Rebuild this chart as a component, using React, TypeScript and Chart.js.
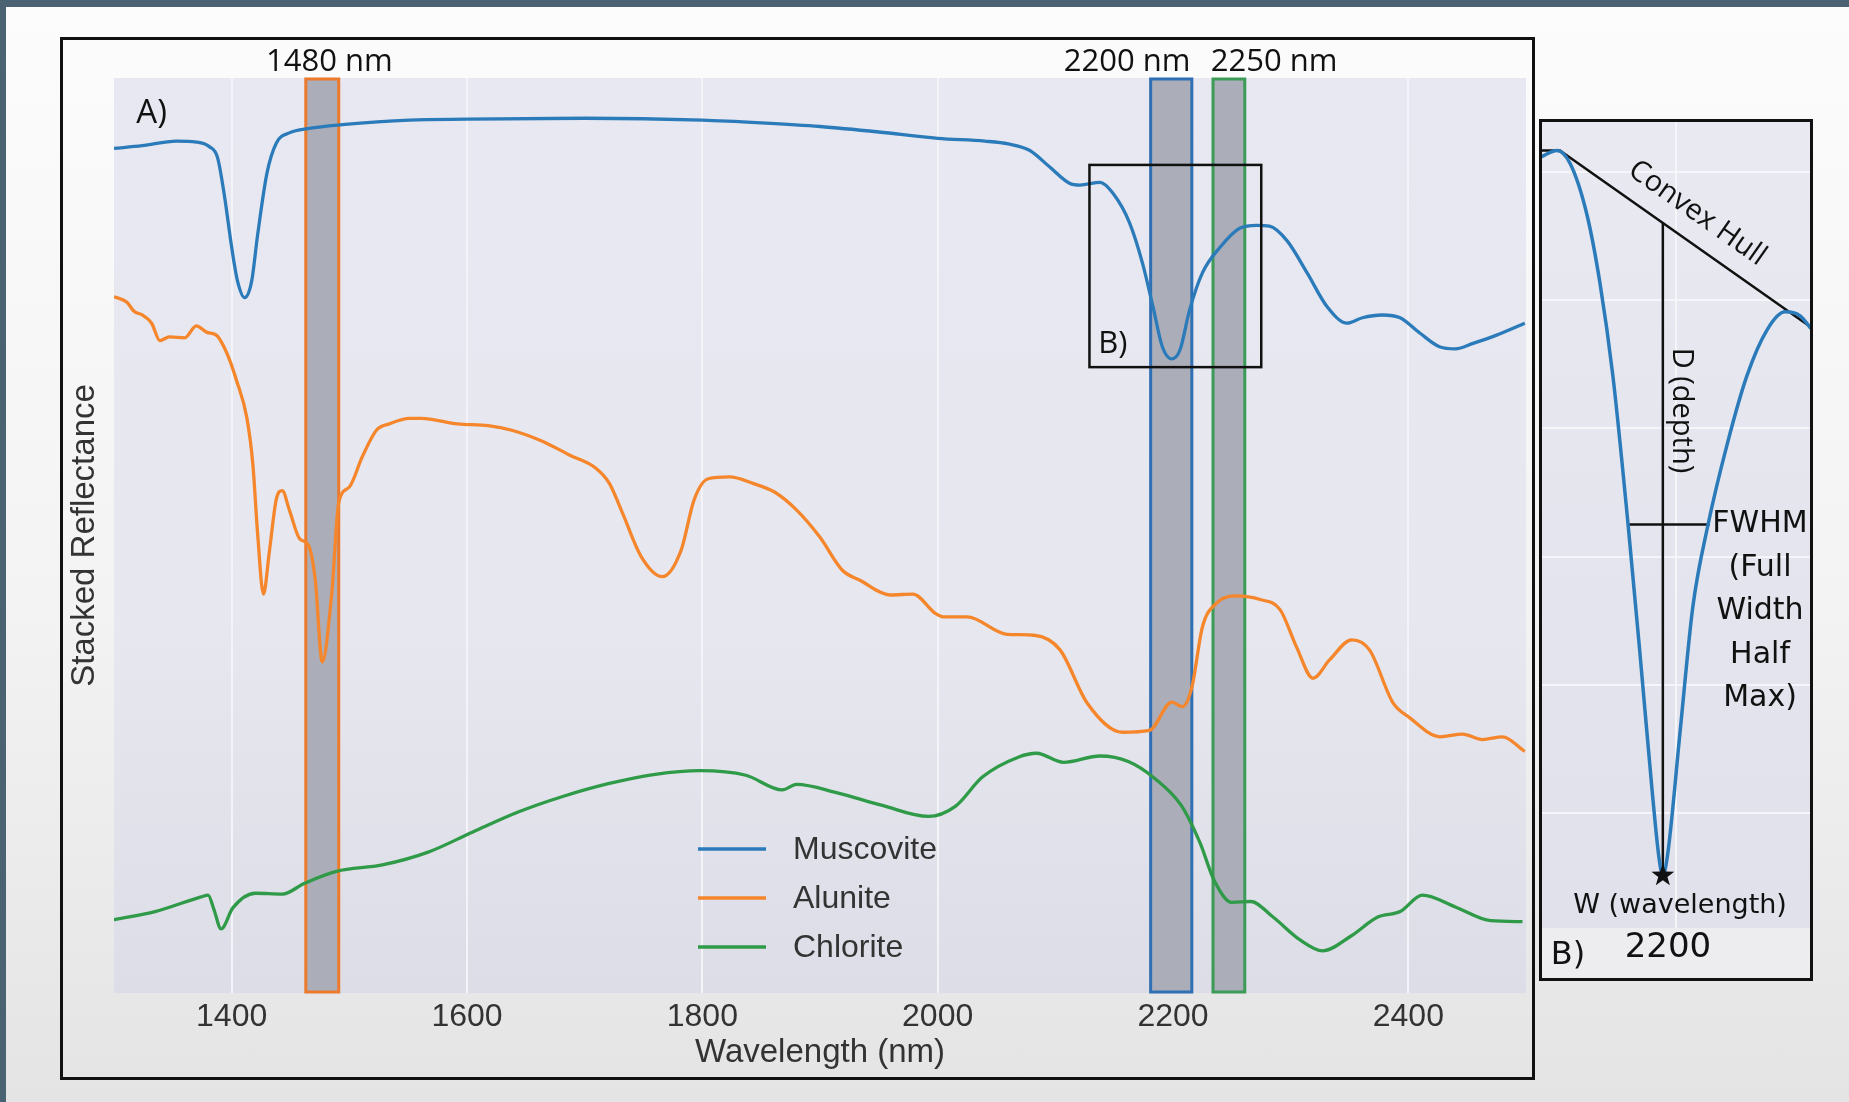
import React, { useEffect, useRef } from "react";
import { Chart, registerables } from "chart.js";

Chart.register(...registerables);

// ---------- main panel data ----------
const xTicks = [1400, 1600, 1800, 2000, 2200, 2400];

const muscoviteWl = [1300, 1324, 1353, 1370, 1381, 1388, 1394, 1400, 1405, 1411, 1417, 1422, 1430, 1438, 1449, 1466, 1494, 1551, 1600, 1700, 1800, 1850, 1900, 1950, 2000, 2040, 2060, 2078, 2095, 2112, 2121, 2138, 2149, 2163, 2174, 2183, 2191, 2199, 2206, 2214, 2225, 2240, 2257, 2271, 2282, 2297, 2314, 2331, 2348, 2361, 2378, 2393, 2410, 2427, 2440, 2455, 2475, 2499];
const muscoviteR = [0.923, 0.926, 0.931, 0.930, 0.925, 0.913, 0.870, 0.815, 0.778, 0.760, 0.778, 0.828, 0.896, 0.929, 0.940, 0.945, 0.949, 0.954, 0.955, 0.956, 0.954, 0.951, 0.947, 0.941, 0.934, 0.931, 0.928, 0.921, 0.903, 0.885, 0.883, 0.886, 0.874, 0.842, 0.798, 0.750, 0.706, 0.693, 0.703, 0.746, 0.787, 0.815, 0.836, 0.839, 0.838, 0.822, 0.787, 0.750, 0.732, 0.738, 0.741, 0.738, 0.721, 0.706, 0.704, 0.710, 0.719, 0.732];

const aluniteWl = [1300, 1311, 1317, 1324, 1332, 1339, 1347, 1360, 1370, 1379, 1387, 1396, 1404, 1413, 1418, 1422, 1427, 1432, 1438, 1443, 1449, 1458, 1465, 1471, 1477, 1485, 1491, 1500, 1511, 1523, 1534, 1551, 1561, 1592, 1618, 1638, 1664, 1687, 1709, 1721, 1732, 1748, 1766, 1782, 1793, 1805, 1823, 1843, 1862, 1880, 1900, 1919, 1934, 1960, 1979, 1998, 2006, 2025, 2059, 2082, 2104, 2127, 2157, 2180, 2199, 2208, 2216, 2225, 2237, 2254, 2274, 2291, 2305, 2319, 2333, 2352, 2367, 2387, 2401, 2427, 2446, 2463, 2480, 2499];
const aluniteR = [0.761, 0.755, 0.745, 0.741, 0.732, 0.713, 0.717, 0.716, 0.729, 0.722, 0.719, 0.699, 0.670, 0.628, 0.578, 0.503, 0.436, 0.482, 0.540, 0.549, 0.528, 0.496, 0.490, 0.452, 0.362, 0.436, 0.536, 0.553, 0.586, 0.615, 0.622, 0.628, 0.628, 0.622, 0.620, 0.615, 0.603, 0.588, 0.574, 0.557, 0.525, 0.477, 0.455, 0.484, 0.539, 0.562, 0.564, 0.557, 0.547, 0.528, 0.498, 0.462, 0.451, 0.435, 0.436, 0.415, 0.411, 0.411, 0.392, 0.391, 0.375, 0.317, 0.285, 0.287, 0.318, 0.313, 0.334, 0.400, 0.426, 0.434, 0.430, 0.419, 0.378, 0.344, 0.364, 0.386, 0.375, 0.317, 0.301, 0.280, 0.283, 0.277, 0.280, 0.264];

const chloriteWl = [1300, 1335, 1374, 1380, 1385, 1391, 1401, 1420, 1443, 1462, 1489, 1528, 1567, 1605, 1644, 1682, 1721, 1760, 1798, 1837, 1868, 1880, 1914, 1953, 1992, 2015, 2038, 2069, 2084, 2107, 2138, 2162, 2184, 2207, 2223, 2235, 2250, 2266, 2285, 2308, 2327, 2351, 2374, 2393, 2412, 2440, 2470, 2497];
const chloriteR = [0.080, 0.089, 0.105, 0.107, 0.091, 0.070, 0.093, 0.109, 0.108, 0.120, 0.133, 0.140, 0.154, 0.176, 0.198, 0.215, 0.229, 0.239, 0.243, 0.238, 0.222, 0.228, 0.219, 0.205, 0.193, 0.204, 0.236, 0.258, 0.262, 0.252, 0.259, 0.253, 0.235, 0.205, 0.164, 0.123, 0.099, 0.100, 0.083, 0.058, 0.046, 0.062, 0.083, 0.089, 0.107, 0.094, 0.079, 0.078];

const seriesNames = ["Muscovite", "Alunite", "Chlorite"];
const seriesColors = ["#2b7bba", "#f5862b", "#2f9a47"];

const bandStart = [1463, 2181, 2234];
const bandEnd = [1491, 2216, 2261];
const bandColors = ["#ec7a2c", "#2f6fb3", "#3c9b57"];
const bandLabels = ["1480 nm", "2200 nm", "2250 nm"];
const bandLabelAt = [1483, 2161, 2286];

const zoomBoxWl = [2129, 2275];
const zoomBoxR = [0.684, 0.905];

// ---------- inset (B) data ----------
const detailWl = [2160, 2164.7, 2168.6, 2173.6, 2177.5, 2181.3, 2185.8, 2189.3, 2192.9, 2195, 2196.1, 2197.6, 2201.2, 2205, 2209.5, 2215.1, 2221, 2227, 2232.3, 2236.7, 2240];
const detailR = [0.712, 0.717, 0.707, 0.667, 0.613, 0.541, 0.425, 0.325, 0.218, 0.164, 0.151, 0.169, 0.263, 0.361, 0.425, 0.487, 0.541, 0.577, 0.591, 0.588, 0.578];
const hullWl = [2160, 2165.6, 2240];
const hullR = [0.717, 0.717, 0.579];
const depthWl = [2196.1, 2196.1];
const depthR = [0.661, 0.151];
const fwhmWl = [2185.8, 2210];
const fwhmR = [0.425, 0.425];
const detailXTicks = [2200];
const detailYTicks = [0.2, 0.3, 0.4, 0.5, 0.6, 0.7];

const SANS = "'Liberation Sans', Arial, sans-serif";
const OPEN = "'Open Sans', sans-serif";
const DEJA = "'DejaVu Sans', sans-serif";

function MainChart() {
  const ref = useRef<HTMLCanvasElement>(null);
  useEffect(() => {
    const canvas = ref.current!;
    const wls = [muscoviteWl, aluniteWl, chloriteWl];
    const rs = [muscoviteR, aluniteR, chloriteR];
    const deco = {
      id: "deco",
      beforeDraw(chart: any) {
        const { ctx, chartArea: a } = chart;
        const g = ctx.createLinearGradient(0, a.top, 0, a.bottom);
        g.addColorStop(0, "#e7e8f1");
        g.addColorStop(0.6, "#e6e7ef");
        g.addColorStop(1, "#dcdde6");
        ctx.save();
        ctx.fillStyle = g;
        ctx.fillRect(a.left, a.top, a.right - a.left, a.bottom - a.top);
        ctx.restore();
      },
      beforeDatasetsDraw(chart: any) {
        const { ctx, chartArea: a } = chart;
        const x = chart.scales.x;
        ctx.save();
        for (let i = 0; i < bandStart.length; i++) {
          const x0 = x.getPixelForValue(bandStart[i]);
          const x1 = x.getPixelForValue(bandEnd[i]);
          ctx.fillStyle = "#abadb9";
          ctx.fillRect(x0, a.top, x1 - x0, a.bottom - a.top);
          ctx.strokeStyle = bandColors[i];
          ctx.lineWidth = 3;
          ctx.strokeRect(x0, a.top + 1, x1 - x0, a.bottom - a.top - 2);
        }
        ctx.restore();
      },
      afterDatasetsDraw(chart: any) {
        const { ctx, chartArea: a } = chart;
        const x = chart.scales.x;
        const y = chart.scales.y;
        ctx.save();
        // zoom box
        const bx0 = x.getPixelForValue(zoomBoxWl[0]);
        const bx1 = x.getPixelForValue(zoomBoxWl[1]);
        const by0 = y.getPixelForValue(zoomBoxR[1]);
        const by1 = y.getPixelForValue(zoomBoxR[0]);
        ctx.strokeStyle = "#111";
        ctx.lineWidth = 2.5;
        ctx.strokeRect(bx0, by0, bx1 - bx0, by1 - by0);
        ctx.fillStyle = "#111";
        ctx.textAlign = "center";
        ctx.textBaseline = "middle";
        ctx.font = `31px ${OPEN}`;
        ctx.fillText("B)", x.getPixelForValue(2148.8), y.getPixelForValue(0.709));
        ctx.font = `33px ${OPEN}`;
        ctx.fillText("A)", x.getPixelForValue(1332), y.getPixelForValue(0.961));
        // band labels
        ctx.font = `31px ${OPEN}`;
        for (let i = 0; i < bandLabels.length; i++) {
          ctx.fillText(bandLabels[i], x.getPixelForValue(bandLabelAt[i]), a.top - 16);
        }
        // legend
        ctx.textAlign = "left";
        ctx.font = `32px ${SANS}`;
        chart.data.datasets.forEach((ds: any, i: number) => {
          const ly = a.top + 771 + i * 49;
          ctx.strokeStyle = ds.borderColor;
          ctx.lineWidth = 3.5;
          ctx.beginPath();
          ctx.moveTo(a.left + 584, ly);
          ctx.lineTo(a.left + 652, ly);
          ctx.stroke();
          ctx.fillStyle = "#333";
          ctx.fillText(ds.label, a.left + 679, ly + 1);
        });
        ctx.restore();
      },
    };
    const chart = new Chart(canvas, {
      type: "line",
      data: {
        datasets: seriesNames.map((name, i) => ({
          label: name,
          data: wls[i].map((w, j) => ({ x: w, y: rs[i][j] })),
          borderColor: seriesColors[i],
          backgroundColor: seriesColors[i],
          borderWidth: 3.3,
          pointRadius: 0,
          cubicInterpolationMode: "monotone",
          fill: false,
        })),
      },
      options: {
        animation: false,
        responsive: false,
        maintainAspectRatio: false,
        layout: { padding: { top: 40, right: 7, left: 0, bottom: 0 } },
        plugins: { legend: { display: false }, tooltip: { enabled: false } },
        scales: {
          x: {
            type: "linear",
            min: 1300,
            max: 2500,
            afterBuildTicks: (s: any) => {
              s.ticks = xTicks.map((v) => ({ value: v }));
            },
            afterFit: (s: any) => {
              s.height = 85;
            },
            grid: { color: "#f4f4f8", lineWidth: 2, drawTicks: false },
            border: { display: false },
            ticks: {
              color: "#333",
              font: { family: SANS, size: 32 },
              padding: 5,
              maxRotation: 0,
              autoSkip: false,
              callback: (v: any) => String(v),
            },
            title: {
              display: true,
              text: "Wavelength (nm)",
              color: "#333",
              font: { family: SANS, size: 33 },
              padding: { top: 0, bottom: 5 },
            },
          },
          y: {
            type: "linear",
            min: 0,
            max: 1,
            afterFit: (s: any) => {
              s.width = 53;
            },
            grid: { display: false },
            border: { display: false },
            ticks: { display: false },
            title: {
              display: true,
              text: "Stacked Reflectance",
              color: "#333",
              font: { family: SANS, size: 33 },
              padding: { top: 4, bottom: 0 },
            },
          },
        },
      },
      plugins: [deco],
    } as any);
    return () => chart.destroy();
  }, []);
  return (
    <canvas
      ref={ref}
      width={1472}
      height={1040}
      style={{ position: "absolute", left: 61, top: 38, width: 1472, height: 1040 }}
    />
  );
}

function DetailChart() {
  const ref = useRef<HTMLCanvasElement>(null);
  useEffect(() => {
    const canvas = ref.current!;
    const deco = {
      id: "decoB",
      beforeDraw(chart: any) {
        const { ctx, chartArea: a, width, height } = chart;
        ctx.save();
        ctx.fillStyle = "#ededf0";
        ctx.fillRect(0, 0, width, height);
        const g = ctx.createLinearGradient(0, a.top, 0, a.bottom);
        g.addColorStop(0, "#e8e9f1");
        g.addColorStop(1, "#e0e1ea");
        ctx.fillStyle = g;
        ctx.fillRect(a.left, a.top, a.right - a.left, a.bottom - a.top);
        ctx.restore();
      },
      afterDatasetsDraw(chart: any) {
        const { ctx, chartArea: a } = chart;
        const x = chart.scales.x;
        const y = chart.scales.y;
        ctx.save();
        ctx.fillStyle = "#111";
        // star at the band minimum
        const sx = x.getPixelForValue(depthWl[1]);
        const sy = y.getPixelForValue(depthR[1]);
        ctx.beginPath();
        for (let k = 0; k < 10; k++) {
          const r = k % 2 === 0 ? 12 : 4.8;
          const ang = -Math.PI / 2 + (k * Math.PI) / 5;
          const px = sx + r * Math.cos(ang);
          const py = sy + r * Math.sin(ang);
          if (k === 0) ctx.moveTo(px, py);
          else ctx.lineTo(px, py);
        }
        ctx.closePath();
        ctx.fill();
        ctx.textAlign = "center";
        ctx.textBaseline = "middle";
        // Convex Hull label along the hull
        const ang = Math.atan2(
          y.getPixelForValue(hullR[2]) - y.getPixelForValue(hullR[1]),
          x.getPixelForValue(hullWl[2]) - x.getPixelForValue(hullWl[1])
        );
        ctx.save();
        ctx.translate(x.getPixelForValue(2206.3), y.getPixelForValue(0.668));
        ctx.rotate(ang);
        ctx.font = `29px ${OPEN}`;
        ctx.fillText("Convex Hull", 0, 0);
        ctx.restore();
        // depth label
        ctx.save();
        ctx.translate(x.getPixelForValue(2201.5), y.getPixelForValue(0.514));
        ctx.rotate(Math.PI / 2);
        ctx.font = `29px ${OPEN}`;
        ctx.fillText("D (depth)", 0, 0);
        ctx.restore();
        // FWHM block
        ctx.font = `30px ${DEJA}`;
        const fx = x.getPixelForValue(2224.9);
        const fy = y.getPixelForValue(fwhmR[0]);
        ["FWHM", "(Full", "Width", "Half", "Max)"].forEach((t, i) => {
          ctx.fillText(t, fx, fy + i * 43.5);
        });
        ctx.font = `27px ${DEJA}`;
        ctx.fillText("W (wavelength)", x.getPixelForValue(2201.2), y.getPixelForValue(0.127));
        ctx.font = `32px ${DEJA}`;
        ctx.fillText("B)", a.left + 27, a.bottom + 28);
        ctx.font = `34px ${DEJA}`;
        ctx.fillText("2200", x.getPixelForValue(2197.6), a.bottom + 20);
        ctx.restore();
      },
    };
    const lineDs = (wl: number[], r: number[], color: string, width: number, mono: boolean) => ({
      data: wl.map((w, j) => ({ x: w, y: r[j] })),
      borderColor: color,
      borderWidth: width,
      pointRadius: 0,
      fill: false,
      tension: 0,
      cubicInterpolationMode: mono ? "monotone" : "default",
    });
    const chart = new Chart(canvas, {
      type: "line",
      data: {
        datasets: [
          lineDs(detailWl, detailR, "#2b7bba", 3.5, true),
          lineDs(hullWl, hullR, "#111", 2.5, false),
          lineDs(depthWl, depthR, "#111", 2.5, false),
          lineDs(fwhmWl, fwhmR, "#111", 2.5, false),
        ],
      },
      options: {
        animation: false,
        responsive: false,
        maintainAspectRatio: false,
        layout: { padding: { top: 0, right: 0, left: 0, bottom: 51 } },
        plugins: { legend: { display: false }, tooltip: { enabled: false } },
        scales: {
          x: {
            type: "linear",
            min: 2160,
            max: 2240,
            afterBuildTicks: (s: any) => {
              s.ticks = detailXTicks.map((v) => ({ value: v }));
            },
            afterFit: (s: any) => {
              s.height = 0;
            },
            grid: { color: "#f6f6fa", lineWidth: 2, drawTicks: false },
            border: { display: false },
            ticks: { display: false },
          },
          y: {
            type: "linear",
            min: 0.11,
            max: 0.74,
            afterBuildTicks: (s: any) => {
              s.ticks = detailYTicks.map((v) => ({ value: v }));
            },
            afterFit: (s: any) => {
              s.width = 0;
            },
            grid: { color: "#f6f6fa", lineWidth: 2, drawTicks: false },
            border: { display: false },
            ticks: { display: false },
          },
        },
      },
      plugins: [deco],
    } as any);
    return () => chart.destroy();
  }, []);
  return (
    <canvas
      ref={ref}
      width={270}
      height={858}
      style={{ position: "absolute", left: 1541, top: 121, width: 270, height: 858 }}
    />
  );
}

export default function App() {
  return (
    <div
      style={{
        position: "absolute",
        left: 0,
        top: 0,
        width: 1849,
        height: 1102,
        overflow: "hidden",
        background: "linear-gradient(180deg, #fcfcfc 0%, #f3f3f3 55%, #e4e4e4 100%)",
      }}
    >
      <div style={{ position: "absolute", left: 0, top: 0, width: 1849, height: 7, background: "#4b6273" }} />
      <div style={{ position: "absolute", left: 0, top: 0, width: 6, height: 1102, background: "#4b6273" }} />
      <MainChart />
      <div
        style={{
          position: "absolute",
          left: 60,
          top: 37,
          width: 1475,
          height: 1043,
          boxSizing: "border-box",
          border: "3px solid #111",
          pointerEvents: "none",
        }}
      />
      <DetailChart />
      <div
        style={{
          position: "absolute",
          left: 1539,
          top: 119,
          width: 274,
          height: 862,
          boxSizing: "border-box",
          border: "3px solid #111",
          pointerEvents: "none",
        }}
      />
    </div>
  );
}
